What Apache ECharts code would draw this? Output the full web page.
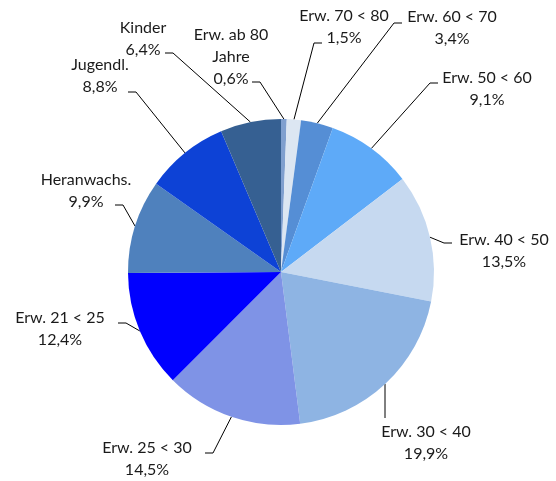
<!DOCTYPE html>
<html>
<head>
<meta charset="utf-8">
<script src="https://cdn.jsdelivr.net/npm/echarts@6/dist/echarts.min.js"></script>
<style>
  html, body { margin: 0; padding: 0; background: #fff; }
  #pie { width: 556px; height: 481px; }
</style>
</head>
<body>
<div id="pie"></div>
<script>
// Anteile in Prozent, im Uhrzeigersinn ab 12 Uhr
var groups = ['Erw. ab 80\nJahre', 'Erw. 70 < 80', 'Erw. 60 < 70', 'Erw. 50 < 60', 'Erw. 40 < 50',
              'Erw. 30 < 40', 'Erw. 25 < 30', 'Erw. 21 < 25', 'Heranwachs.', 'Jugendl.', 'Kinder'];
var shares = [0.6, 1.5, 3.4, 9.1, 13.5, 19.9, 14.5, 12.4, 9.9, 8.8, 6.4];
var colors = ['#7f9fcf', '#dce6f2', '#558ed5', '#5eaaf8', '#c6d9f0', '#8eb4e3',
              '#7f93e6', '#0000ff', '#4f81bd', '#0d42d6', '#366092'];

// Beschriftungen: Mitte des Textes und Ende der Führungslinie
var labelSpots = [
    [231, 57, 252, 82],
    [344, 27, 322, 43],
    [452, 28, 402, 23],
    [487, 89, 438, 83],
    [504, 251, 452, 243],
    [426, 443, 385, 418],
    [147, 459, 205, 453],
    [60, 329, 118, 323],
    [86, 191, 115, 205],
    [100, 75.5, 128, 92],
    [143, 38.5, 165, 53]
];

var center = [281, 272];
var radius = 153;

function edgePoint(i) {
    var before = 0, total = 0;
    for (var k = 0; k < shares.length; k++) {
        total += shares[k];
        if (k < i) before += shares[k];
    }
    var a = (before + shares[i] / 2) / total * Math.PI * 2;
    return [center[0] + radius * Math.sin(a), center[1] - radius * Math.cos(a)];
}

var chart = echarts.init(document.getElementById('pie'));

var option = {
    animation: false,
    series: [{
        type: 'pie',
        center: center,
        radius: radius,
        startAngle: 90,
        clockwise: true,
        avoidLabelOverlap: false,
        data: shares.map(function (v, i) {
            return { value: v, name: groups[i], itemStyle: { color: colors[i] } };
        }),
        itemStyle: { borderWidth: 0 },
        emphasis: { disabled: true },
        label: {
            show: true,
            position: 'outside',
            color: '#1a1a1a',
            fontFamily: 'Lato',
            fontSize: 16,
            lineHeight: 22,
            align: 'center',
            formatter: function (p) {
                return p.name + '\n' + p.value.toFixed(1).replace('.', ',') + '%';
            }
        },
        labelLine: {
            show: true,
            length: 10,
            length2: 8,
            lineStyle: { color: '#000', width: 1 }
        },
        labelLayout: function (params) {
            var i = params.dataIndex;
            var s = labelSpots[i];
            var start = (params.labelLinePoints && params.labelLinePoints[0]) || edgePoint(i);
            var pts;
            if (Math.abs(s[2] - start[0]) < 3) {
                pts = [[s[2], start[1]], [s[2], s[3]]];
            } else {
                var dir = start[0] > s[2] ? 1 : -1;
                pts = [[start[0], start[1]], [s[2] + dir * 8, s[3]], [s[2], s[3]]];
            }
            return {
                x: s[0],
                y: s[1],
                align: 'center',
                verticalAlign: 'middle',
                labelLinePoints: pts
            };
        }
    }]
};

chart.setOption(option);
</script>
</body>
</html>
